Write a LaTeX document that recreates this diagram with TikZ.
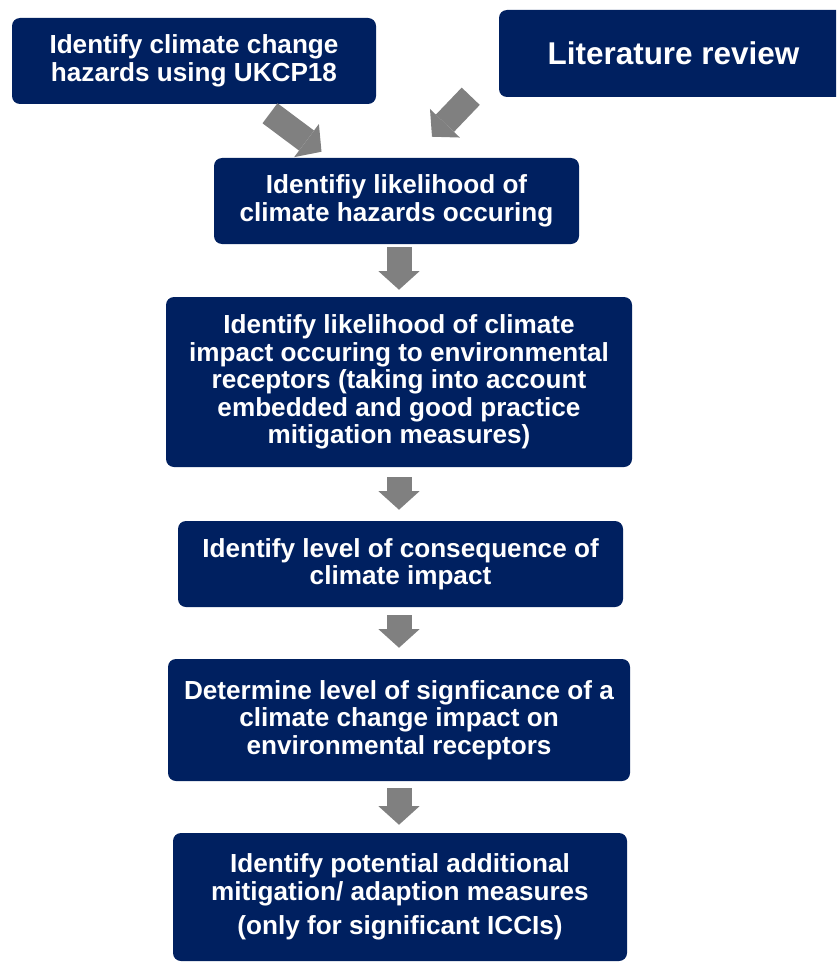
\documentclass[tikz,border=0pt]{standalone}
\usepackage{fontspec}
\setmainfont{Liberation Sans}
\usetikzlibrary{arrows.meta,calc}
\definecolor{navy}{RGB}{0,32,96}
\definecolor{arrowgray}{RGB}{128,128,128}
\begin{document}
\begin{tikzpicture}[x=0.75pt,y=-0.75pt,
  box/.style={fill=navy, rounded corners=6pt, text=white,
    font=\bfseries\fontsize{19.6}{20.6}\selectfont, align=center, inner sep=0pt},
  bigarrow/.style={draw=arrowgray, color=arrowgray, line width=18.75pt,
    -{Triangle[length=14pt,width=31pt,line width=0pt]}}
]
\clip (0,0) rectangle (836,963);
\fill[white] (0,0) rectangle (836,963);

\node[box, minimum width=273pt, minimum height=64.5pt] (b1) at (194,61)
  {Identify climate change\\hazards using UKCP18};
\node[box, minimum width=261.75pt, minimum height=65.25pt,
  font=\bfseries\fontsize{23.6}{26}\selectfont] (b2) at (673.5,53.5)
  {Literature review};
\node[box, minimum width=273.75pt, minimum height=64.5pt] (b3) at (396.5,201)
  {Identifiy likelihood of\\climate hazards occuring};
\node[box, minimum width=349.5pt, minimum height=127.5pt] (b4) at (399,382)
  {Identify likelihood of climate\\impact occuring to environmental\\receptors (taking into account\\embedded and good practice\\mitigation measures)};
\node[box, minimum width=333.75pt, minimum height=64.5pt] (b5) at (400.5,564)
  {Identify level of consequence of\\climate impact};
\node[box, minimum width=346.5pt, minimum height=91.5pt] (b6) at (399,720)
  {Determine level of signficance of a\\climate change impact on\\environmental receptors};
\node[box, minimum width=340.5pt, minimum height=96pt] (b7) at (400,897)
  {Identify potential additional\\mitigation/ adaption measures\\[5pt](only for significant ICCIs)};

\draw[bigarrow] ($(b1.south)+(76,9)$) -- ($(b3.north)+(-75,-6)$);
\draw[bigarrow] ($(b2.south west)+(-28,-1)$) -- ($(b3.north)+(35.5,-21)$);
\draw[bigarrow] ($(b3.south -| b4.north)+(0,3)$) -- ($(b4.north)+(0,-7)$);
\draw[bigarrow] ($(b4.south)+(0,10)$) -- ($(b5.north -| b4.south)+(0,-11)$);
\draw[bigarrow] ($(b5.south -| b6.north)+(0,8)$) -- ($(b6.north)+(0,-11)$);
\draw[bigarrow] ($(b6.south)+(0,7)$) -- ($(b7.north -| b6.south)+(0,-8)$);
\end{tikzpicture}
\end{document}
